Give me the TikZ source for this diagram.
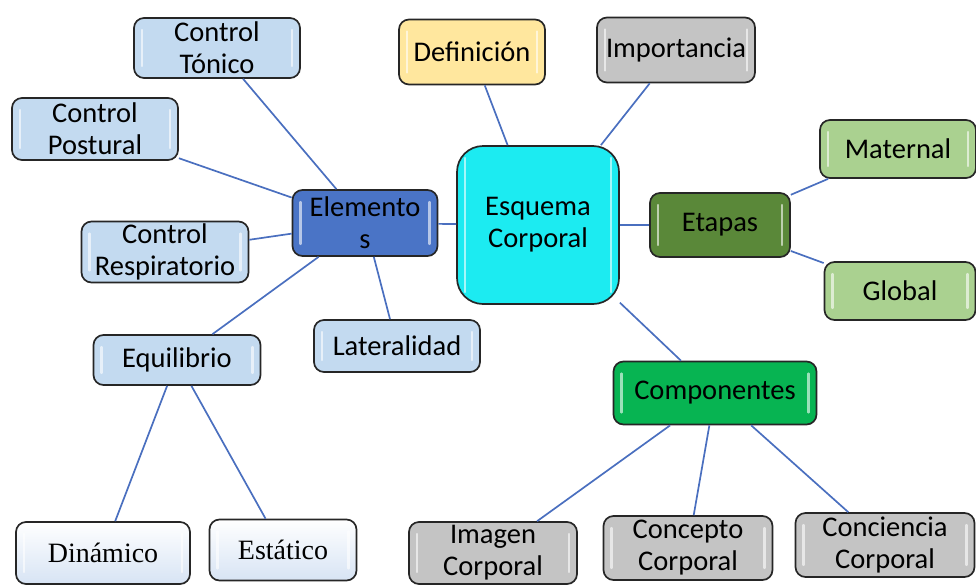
\documentclass[tikz,border=0pt]{standalone}
\usepackage{fontspec}
\setmainfont{Carlito}
\newfontfamily\serifb{Liberation Serif}
\definecolor{lblue}{HTML}{C3DAF0}
\definecolor{mblue}{HTML}{4A74C6}
\definecolor{cyanc}{HTML}{1CEBF1}
\definecolor{ylw}{HTML}{FFE79E}
\definecolor{gry}{HTML}{C4C4C4}
\definecolor{dgreen}{HTML}{5A8839}
\definecolor{lgreen}{HTML}{AAD190}
\definecolor{bgreen}{HTML}{07B452}
\definecolor{linec}{HTML}{4A6FBF}
\definecolor{paleb}{HTML}{DCE6F5}
\begin{document}
\begin{tikzpicture}[x=1pt,y=-1pt,
  box/.style={draw=black!85, line width=1.7pt, rounded corners=10pt, align=center,
    inner sep=1pt, text=black, font=\fontsize{28.5}{32}\selectfont,
    path picture={
      \draw[white, opacity=0.6, line width=2.2pt, line cap=round]
        ([xshift=8pt,yshift=-12pt]path picture bounding box.north west) --
        ([xshift=8pt,yshift=12pt]path picture bounding box.south west);
      \draw[white, opacity=0.6, line width=2.2pt, line cap=round]
        ([xshift=-8pt,yshift=-12pt]path picture bounding box.north east) --
        ([xshift=-8pt,yshift=12pt]path picture bounding box.south east);
    }},
  bx/.style args={#1x#2}{box, minimum width=#1pt, minimum height=#2pt},
  serifbox/.style={top color=white, bottom color=paleb!80!lblue,
    font=\serifb\fontsize{28}{32}\selectfont},
  conn/.style={draw=linec, line width=1.7pt}
]
\useasboundingbox (0,0) rectangle (976,584);
% nodes
\node[bx=166x60, fill=lblue] (tonico) at (217,48) {Control\\Tónico};
\node[bx=166x62, fill=lblue] (postural) at (95,129) {Control\\Postural};
\node[bx=167x61, fill=lblue] (resp) at (165,252) {Control\\Respiratorio};
\node[bx=145x66, fill=mblue] (elem) at (365,223) {Elemento\\s};
\node[bx=166x52, fill=lblue] (lat) at (397,346) {Lateralidad};
\node[bx=167x50, fill=lblue] (equi) at (177,360) {Equilibrio};
\node[bx=174x62, serifbox] (din) at (103,553) {Dinámico};
\node[bx=147x61, serifbox] (est) at (283,550) {Estático};
\node[bx=162x158, fill=cyanc, rounded corners=26pt] (esq) at (538,225) {Esquema\\Corporal};
\node[bx=146x65, fill=ylw] (def) at (472,52) {Definición};
\node[bx=158x65, fill=gry] (imp) at (676,50) {Importancia};
\node[bx=156x58, fill=lgreen] (mat) at (898,149) {Maternal};
\node[bx=140x64, fill=dgreen] (eta) at (720,225) {Etapas};
\node[bx=151x58, fill=lgreen] (glo) at (900,291) {Global};
\node[bx=203x63, fill=bgreen] (comp) at (715,393) {Componentes};
\node[bx=168x62, fill=gry] (img) at (493,553) {Imagen\\Corporal};
\node[bx=169x64, fill=gry] (conc) at (688,548) {Concepto\\Corporal};
\node[bx=179x64, fill=gry] (conci) at (885,545) {Conciencia\\Corporal};
% connectors
\draw[conn] (tonico) -- (elem);
\draw[conn] (postural) -- (elem);
\draw[conn] (resp) -- (elem);
\draw[conn] (equi) -- (elem);
\draw[conn] (lat) -- (elem);
\draw[conn] (elem) -- (esq);
\draw[conn] (def) -- (esq);
\draw[conn] (imp) -- (esq);
\draw[conn] (eta) -- (esq);
\draw[conn] (mat) -- (eta);
\draw[conn] (glo) -- (eta);
\draw[conn] (comp) -- (esq);
\draw[conn] (equi) -- (din);
\draw[conn] (equi) -- (est);
\draw[conn] (comp) -- (img);
\draw[conn] (comp) -- (conc);
\draw[conn] (comp) -- (conci);
\end{tikzpicture}
\end{document}
